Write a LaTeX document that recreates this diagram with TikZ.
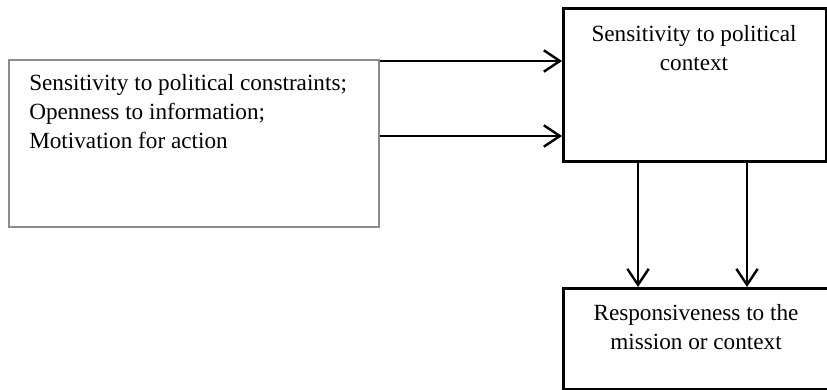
\documentclass[tikz,border=0pt]{standalone}
\usepackage{fontspec}
\setmainfont{Liberation Serif}
\usetikzlibrary{arrows.meta}
\begin{document}
\begin{tikzpicture}[x=0.75pt,y=-0.75pt,
  box/.style={draw=black, line width=1.9pt, inner sep=0pt, anchor=north west},
  graybox/.style={draw=black!45, line width=1.4pt, inner sep=0pt, anchor=north west},
  txt/.style={font=\fontsize{17.4pt}{21.4pt}\selectfont, inner sep=0pt},
  arr/.style={line width=1.8pt, -{Straight Barb[length=12pt,width=16pt,line width=1.8pt]}}]
\useasboundingbox (0,0) rectangle (827,389);
\clip (0,0) rectangle (827,389);
% boxes
\node[graybox, minimum width=370*0.75pt, minimum height=167*0.75pt] (src) at (8,59) {};
\node[box, minimum width=263*0.75pt, minimum height=153*0.75pt] (ctx) at (562,7) {};
\node[box, minimum width=290*0.75pt, minimum height=101*0.75pt] (resp) at (562,287) {};
% texts (base = last line)
\node[txt, anchor=base west, align=left] (srct) at (29,148)
  {Sensitivity to political constraints;\\Openness to information;\\Motivation for action};
\node[txt, anchor=base, align=center] (ctxt) at (694,70)
  {Sensitivity to political\\context};
\node[txt, anchor=base, align=center] (respt) at (696,349)
  {Responsiveness to the\\mission or context};
% connectors
\coordinate (a1) at (0,61);
\coordinate (a2) at (0,136);
\coordinate (b1) at (638,0);
\coordinate (b2) at (747,0);
\draw[arr] (src.east |- a1) -- (ctx.west |- a1);
\draw[arr] (src.east |- a2) -- (ctx.west |- a2);
\draw[arr] (ctx.south -| b1) -- (resp.north -| b1);
\draw[arr] (ctx.south -| b2) -- (resp.north -| b2);
\end{tikzpicture}
\end{document}
